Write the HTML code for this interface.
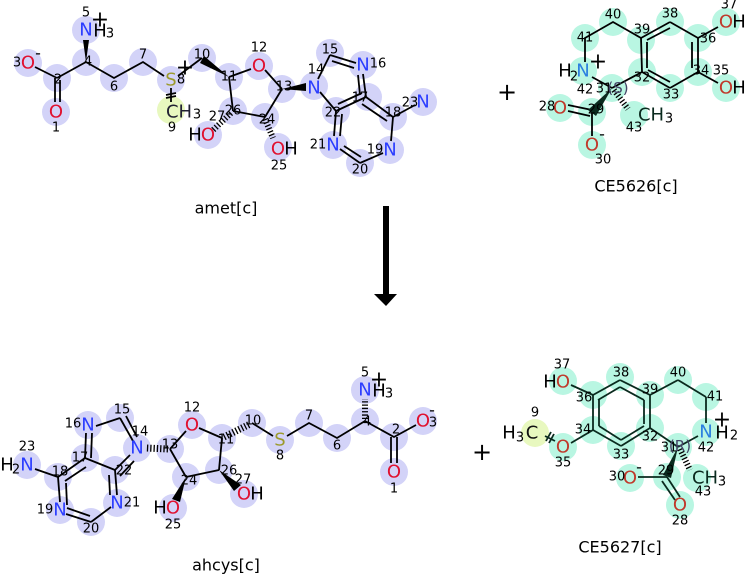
<!DOCTYPE html>
<html><head><meta charset="utf-8"><style>
html,body{margin:0;padding:0;background:#fff;}
svg{display:block;font-family:"DejaVu Sans","Liberation Sans",sans-serif;}
.l circle{fill:#d3d3f8;r:14px}
.m circle{fill:#b9f6e2;r:14px}
.y{fill:#e8f8bf}
.b line,.b polyline{stroke:#000;stroke-width:1.8;fill:none}
.g line{stroke:#0a2a1e;stroke-width:1.8}
.e{font-size:18px;text-anchor:middle;dominant-baseline:central}
.n{font-size:13px;text-anchor:middle;dominant-baseline:central;fill:#000}
.nb{fill:#2b3dff}.or{fill:#e0102f}.os{fill:#c0392b}.sy{fill:#9c9a2c}.nc{fill:#2a7fe0}
</style></head><body>
<svg width="745" height="575" viewBox="0 0 745 575" xmlns="http://www.w3.org/2000/svg">
<!-- amet highlights -->
<g class="l">
<circle cx="28" cy="63" r="14"/><circle cx="57" cy="78" r="14"/><circle cx="56" cy="112" r="14"/>
<circle cx="86" cy="62" r="14"/><circle cx="86" cy="30" r="14"/><circle cx="114" cy="78" r="14"/>
<circle cx="143" cy="62" r="14"/><circle cx="171" cy="80" r="14"/><circle cx="202" cy="58" r="14"/>
<circle cx="229" cy="77" r="14"/><circle cx="259" cy="66" r="14"/><circle cx="282" cy="89" r="14"/>
<circle cx="233" cy="111" r="14"/><circle cx="265" cy="117" r="14"/><circle cx="208" cy="135" r="14"/>
<circle cx="278" cy="147" r="14"/><circle cx="314" cy="86" r="14"/><circle cx="330" cy="53" r="14"/>
<circle cx="363" cy="65" r="14"/><circle cx="368" cy="97" r="14"/><circle cx="336" cy="111" r="14"/>
<circle cx="393" cy="117" r="14"/><circle cx="423" cy="102" r="14"/><circle cx="390" cy="150" r="14"/>
<circle cx="360" cy="163" r="14"/><circle cx="333" cy="145" r="14"/>
</g>
<circle class="y" cx="171" cy="110" r="14"/>
<g class="b">
<line x1="35" y1="67" x2="57" y2="78"/><line x1="55" y1="78" x2="55" y2="102"/><line x1="60" y1="80" x2="60" y2="102"/>
<polyline points="57,78 86,62 114,78 143,62 164,76"/>
<line x1="171" y1="88" x2="171" y2="102"/>
<line x1="166" y1="95" x2="176" y2="93"/><line x1="166" y1="98" x2="176" y2="96"/>
<line x1="178" y1="76" x2="202" y2="58"/>
<line x1="229" y1="77" x2="251" y2="69"/><line x1="265" y1="70" x2="282" y2="89"/>
<line x1="229" y1="77" x2="233" y2="111"/><line x1="233" y1="111" x2="265" y2="117"/><line x1="265" y1="117" x2="282" y2="89"/>
<line x1="318" y1="79" x2="330" y2="55"/><line x1="330" y1="55" x2="356" y2="63"/><line x1="332" y1="61" x2="354" y2="68"/>
<line x1="363" y1="74" x2="366" y2="97"/><line x1="358" y1="75" x2="360" y2="95"/>
<line x1="320" y1="92" x2="336" y2="111"/><line x1="366" y1="97" x2="336" y2="111"/><line x1="362" y1="93" x2="338" y2="104"/>
<line x1="366" y1="97" x2="393" y2="117"/><line x1="362" y1="104" x2="387" y2="121"/>
<line x1="393" y1="117" x2="415" y2="105"/><line x1="393" y1="117" x2="391" y2="141"/>
<line x1="383" y1="153" x2="360" y2="163"/><line x1="360" y1="163" x2="340" y2="149"/><line x1="361" y1="157" x2="344" y2="146"/>
<line x1="336" y1="111" x2="334" y2="136"/><line x1="342" y1="114" x2="340" y2="136"/>
</g>
<polygon points="86,62 83,40 89,40" fill="#000"/>
<polygon points="229,77 200,63 204,56" fill="#000"/>
<polygon points="282,89 306,83 306,91" fill="#000"/>
<line x1="231" y1="113" x2="212" y2="131" stroke="#000" stroke-width="6" stroke-dasharray="1.3,2"/>
<line x1="265" y1="119" x2="273" y2="138" stroke="#000" stroke-width="6" stroke-dasharray="1.3,2"/>
<g>
<text class="e or" x="28" y="63">O</text><text class="n" x="17" y="63">3</text><text class="n" x="38" y="53" style="font-size:16px">-</text>
<text class="n" x="58" y="80">2</text>
<text class="e or" x="56" y="112">O</text><text class="n" x="56" y="128">1</text>
<text class="n" x="88" y="62">4</text>
<text class="e nb" x="86" y="30">N</text><text class="e" x="100" y="31">H</text><text class="n" x="110" y="34" style="font-size:13px">3</text>
<text class="n" x="86" y="13">5</text><text class="e" x="100" y="20" style="font-size:22px">+</text>
<text class="n" x="114" y="87">6</text><text class="n" x="143" y="55">7</text>
<text class="e sy" x="171" y="80">S</text><text class="n" x="181" y="80">8</text><text class="e" x="185" y="68" style="font-size:22px">+</text>
<text class="e" x="179" y="112" fill="#223">CH</text><text class="n" x="197" y="115" style="font-size:13px">3</text><text class="n" x="172" y="128">9</text>
<text class="n" x="202" y="55">10</text><text class="n" x="229" y="77">11</text>
<text class="e or" x="259" y="66">O</text><text class="n" x="259" y="48">12</text>
<text class="n" x="284" y="87">13</text>
<text class="n" x="233" y="111">26</text><text class="n" x="217" y="117">27</text>
<text class="e or" x="208" y="135">O</text><text class="e" x="195" y="135">H</text>
<text class="n" x="267" y="120">24</text>
<text class="e or" x="278" y="149">O</text><text class="e" x="291" y="149">H</text><text class="n" x="279" y="166">25</text>
<text class="e nb" x="314" y="88">N</text><text class="n" x="316" y="70">14</text>
<text class="n" x="330" y="50">15</text>
<text class="e nb" x="363" y="65">N</text><text class="n" x="378" y="64">16</text>
<text class="n" x="360" y="98">17</text><text class="n" x="333" y="113">22</text>
<text class="n" x="393" y="113">18</text><text class="n" x="410" y="103">23</text>
<text class="e nb" x="423" y="102">N</text>
<text class="e nb" x="390" y="150">N</text><text class="n" x="375" y="150">19</text>
<text class="n" x="360" y="170">20</text>
<text class="e nb" x="333" y="145">N</text><text class="n" x="318" y="145">21</text>
</g>
<text x="226" y="208" font-size="16" text-anchor="middle" dominant-baseline="central">amet[c]</text>
<text x="507" y="92" font-size="24" text-anchor="middle" dominant-baseline="central">+</text>

<!-- CE5626 -->
<g class="m">
<circle cx="613" cy="22" r="14"/><circle cx="585" cy="38" r="14"/><circle cx="583" cy="71" r="14"/>
<circle cx="612" cy="88" r="14"/><circle cx="641" cy="40" r="14"/><circle cx="670" cy="22" r="14"/>
<circle cx="698" cy="38" r="14"/><circle cx="698" cy="72" r="14"/><circle cx="670" cy="88" r="14"/>
<circle cx="642" cy="72" r="14"/><circle cx="726" cy="22" r="14"/><circle cx="726" cy="88" r="14"/>
<circle cx="592" cy="112" r="14"/><circle cx="560" cy="108" r="14"/><circle cx="592" cy="145" r="14"/>
<circle cx="634" cy="115" r="14"/>
</g>
<g class="b">
<polyline points="585,62 585,38 613,22 641,38"/>
<line x1="592" y1="77" x2="612" y2="88"/><line x1="612" y1="88" x2="642" y2="72"/>
<line x1="641" y1="38" x2="642" y2="72"/><line x1="647" y1="42" x2="647" y2="68"/>
<line x1="641" y1="38" x2="670" y2="22"/><line x1="670" y1="22" x2="698" y2="38"/><line x1="647" y1="40" x2="670" y2="28"/>
<line x1="698" y1="38" x2="698" y2="72"/><line x1="692" y1="42" x2="692" y2="68"/>
<line x1="698" y1="72" x2="670" y2="88"/><line x1="670" y1="88" x2="642" y2="72"/><line x1="670" y1="82" x2="648" y2="70"/>
<line x1="698" y1="38" x2="718" y2="27"/><line x1="698" y1="72" x2="718" y2="83"/>
<line x1="568" y1="105" x2="592" y2="110"/><line x1="568" y1="111" x2="590" y2="116"/>
<line x1="592" y1="112" x2="592" y2="136"/>
</g>
<polygon points="612,88 588,110 596,116" fill="#0a2a1e"/>
<line x1="614" y1="90" x2="628" y2="109" stroke="#000" stroke-width="6" stroke-dasharray="1.3,2"/>
<g>
<text class="n" x="613" y="15">40</text><text class="n" x="585" y="38">41</text>
<text class="e nc" x="583" y="71">N</text><text class="e" x="565" y="71">H</text><text class="n" x="574" y="77" style="font-size:13px">2</text>
<text class="e" x="598" y="62" style="font-size:22px">+</text><text class="n" x="585" y="90">42</text>
<text class="n" x="604" y="89">31</text><text class="e" x="618" y="88" fill="#446" style="font-size:15px">(S)</text>
<text class="n" x="642" y="30">39</text><text class="n" x="670" y="14">38</text><text class="n" x="708" y="39">36</text>
<text class="n" x="701" y="71">34</text><text class="n" x="671" y="95">33</text><text class="n" x="642" y="78">32</text>
<text class="e os" x="726" y="22">O</text><text class="e" x="739" y="22">H</text><text class="n" x="729" y="5">37</text>
<text class="e os" x="726" y="88">O</text><text class="e" x="739" y="88">H</text><text class="n" x="721" y="71">35</text>
<text class="e os" x="560" y="108">O</text><text class="n" x="547" y="107">28</text>
<text class="n" x="596" y="110">29</text>
<text class="e os" x="592" y="145">O</text><text class="n" x="602" y="134" style="font-size:16px">-</text><text class="n" x="603" y="160">30</text>
<text class="e" x="651" y="115" fill="#0a2a1e">CH</text><text class="n" x="669" y="119" style="font-size:13px">3</text><text class="n" x="634" y="128">43</text>
</g>
<text x="636" y="186" font-size="16" text-anchor="middle" dominant-baseline="central">CE5626[c]</text>

<!-- arrow -->
<rect x="383" y="206" width="6" height="90" fill="#000"/>
<polygon points="374,294 397,294 386,306" fill="#000"/>

<!-- ahcys -->
<g class="l">
<circle cx="27" cy="465" r="14"/><circle cx="58" cy="477" r="14"/><circle cx="85" cy="458" r="14"/>
<circle cx="88" cy="425" r="14"/><circle cx="120" cy="418" r="14"/><circle cx="137" cy="448" r="14"/>
<circle cx="115" cy="470" r="14"/><circle cx="60" cy="510" r="14"/><circle cx="91" cy="522" r="14"/>
<circle cx="117" cy="503" r="14"/><circle cx="170" cy="449" r="14"/><circle cx="192" cy="425" r="14"/>
<circle cx="222" cy="438" r="14"/><circle cx="252" cy="423" r="14"/><circle cx="280" cy="440" r="14"/>
<circle cx="309" cy="423" r="14"/><circle cx="337" cy="438" r="14"/><circle cx="365" cy="421" r="14"/>
<circle cx="365" cy="390" r="14"/><circle cx="394" cy="437" r="14"/><circle cx="423" cy="421" r="14"/>
<circle cx="394" cy="472" r="14"/><circle cx="186" cy="477" r="14"/><circle cx="219" cy="470" r="14"/>
<circle cx="244" cy="494" r="14"/><circle cx="173" cy="508" r="14"/>
</g>
<g class="b">
<line x1="35" y1="469" x2="58" y2="477"/><line x1="58" y1="477" x2="85" y2="458"/><line x1="65" y1="481" x2="86" y2="467"/>
<line x1="85" y1="458" x2="86" y2="433"/><line x1="91" y1="458" x2="92" y2="433"/>
<line x1="96" y1="426" x2="120" y2="418"/><line x1="120" y1="418" x2="133" y2="441"/><line x1="126" y1="416" x2="137" y2="437"/>
<line x1="85" y1="458" x2="115" y2="470"/><line x1="130" y1="455" x2="115" y2="470"/><line x1="134" y1="461" x2="120" y2="476"/>
<line x1="58" y1="477" x2="60" y2="502"/><line x1="66" y1="514" x2="91" y2="522"/><line x1="67" y1="508" x2="90" y2="516"/>
<line x1="91" y1="522" x2="111" y2="507"/><line x1="115" y1="470" x2="117" y2="495"/><line x1="109" y1="475" x2="110" y2="495"/>
<line x1="66" y1="483" x2="67" y2="505"/>
<line x1="170" y1="449" x2="186" y2="431"/><line x1="199" y1="428" x2="222" y2="438"/>
<line x1="170" y1="449" x2="186" y2="477"/><line x1="186" y1="477" x2="219" y2="470"/><line x1="219" y1="470" x2="222" y2="438"/>
<polyline points="252,423 273,436"/><polyline points="287,436 309,423 337,438 365,421 394,437 416,425"/>
<line x1="391" y1="437" x2="391" y2="463"/><line x1="397" y1="437" x2="397" y2="463"/>
</g>
<line x1="224" y1="437" x2="250" y2="424" stroke="#000" stroke-width="7" stroke-dasharray="1.3,2"/>
<line x1="168" y1="449" x2="146" y2="448" stroke="#000" stroke-width="7" stroke-dasharray="1.3,2"/>
<line x1="365" y1="419" x2="365" y2="399" stroke="#000" stroke-width="6" stroke-dasharray="1.3,2"/>
<polygon points="186,477 172,499 180,502" fill="#000"/>
<polygon points="219,470 234,491 241,485" fill="#000"/>
<g>
<text class="e nb" x="27" y="465">N</text><text class="e" x="7" y="465">H</text><text class="n" x="16" y="470" style="font-size:13px">2</text><text class="n" x="27" y="447">23</text>
<text class="n" x="60" y="472">18</text><text class="n" x="80" y="458">17</text>
<text class="e nb" x="88" y="425">N</text><text class="n" x="73" y="424">16</text>
<text class="n" x="122" y="410">15</text>
<text class="e nb" x="137" y="448">N</text><text class="n" x="140" y="432">14</text>
<text class="n" x="124" y="471">22</text>
<text class="e nb" x="60" y="510">N</text><text class="n" x="45" y="510">19</text>
<text class="n" x="91" y="529">20</text>
<text class="e nb" x="117" y="503">N</text><text class="n" x="132" y="503">21</text>
<text class="n" x="170" y="445">13</text>
<text class="e or" x="192" y="425">O</text><text class="n" x="192" y="408">12</text>
<text class="n" x="226" y="440">11</text><text class="n" x="253" y="421">10</text>
<text class="e sy" x="280" y="440">S</text><text class="n" x="280" y="456">8</text>
<text class="n" x="309" y="416">7</text><text class="n" x="337" y="446">6</text>
<text class="n" x="367" y="422">4</text>
<text class="e nb" x="365" y="390">N</text><text class="e" x="379" y="391">H</text><text class="n" x="389" y="394" style="font-size:13px">3</text>
<text class="n" x="365" y="373">5</text><text class="e" x="379" y="380" style="font-size:22px">+</text>
<text class="n" x="396" y="430">2</text>
<text class="e or" x="423" y="421">O</text><text class="n" x="433" y="423">3</text><text class="n" x="432" y="410" style="font-size:16px">-</text>
<text class="e or" x="394" y="472">O</text><text class="n" x="394" y="489">1</text>
<text class="n" x="189" y="481">24</text><text class="n" x="229" y="471">26</text><text class="n" x="243" y="480">27</text>
<text class="e or" x="244" y="494">O</text><text class="e" x="257" y="494">H</text>
<text class="e or" x="173" y="508">O</text><text class="e" x="160" y="508">H</text><text class="n" x="173" y="525">25</text>
</g>
<text x="226" y="565" font-size="16" text-anchor="middle" dominant-baseline="central">ahcys[c]</text>
<text x="482" y="452" font-size="24" text-anchor="middle" dominant-baseline="central">+</text>

<!-- CE5627 -->
<g class="m">
<circle cx="563" cy="381" r="14"/><circle cx="593" cy="395" r="14"/><circle cx="620" cy="377" r="14"/>
<circle cx="650" cy="395" r="14"/><circle cx="678" cy="380" r="14"/><circle cx="706" cy="397" r="14"/>
<circle cx="706" cy="432" r="14"/><circle cx="678" cy="447" r="14"/><circle cx="650" cy="428" r="14"/>
<circle cx="621" cy="446" r="14"/><circle cx="593" cy="430" r="14"/><circle cx="563" cy="447" r="14"/>
<circle cx="667" cy="477" r="14"/><circle cx="630" cy="478" r="14"/><circle cx="680" cy="505" r="14"/>
<circle cx="697" cy="478" r="14"/>
</g>
<circle class="y" cx="535" cy="433" r="14"/>
<g class="g">
<line x1="571" y1="385" x2="593" y2="395"/>
<line x1="593" y1="395" x2="620" y2="380"/><line x1="620" y1="380" x2="650" y2="395"/><line x1="598" y1="400" x2="620" y2="387"/>
<line x1="620" y1="387" x2="644" y2="400"/>
<line x1="650" y1="395" x2="650" y2="428"/><line x1="644" y1="400" x2="644" y2="424"/>
<line x1="593" y1="395" x2="593" y2="430"/><line x1="599" y1="399" x2="599" y2="426"/>
<line x1="593" y1="430" x2="621" y2="446"/><line x1="621" y1="446" x2="650" y2="428"/><line x1="621" y1="440" x2="644" y2="426"/>
<line x1="599" y1="426" x2="621" y2="440"/>
<line x1="650" y1="395" x2="678" y2="380"/><line x1="678" y1="380" x2="706" y2="397"/><line x1="706" y1="397" x2="706" y2="423"/>
<line x1="698" y1="436" x2="678" y2="447"/><line x1="650" y1="428" x2="678" y2="447"/>
<line x1="593" y1="430" x2="571" y2="443"/><line x1="555" y1="441" x2="545" y2="436"/>
<line x1="546" y1="441" x2="551" y2="432"/><line x1="549" y1="443" x2="554" y2="434"/>
<line x1="638" y1="477" x2="667" y2="477"/>
<line x1="667" y1="477" x2="680" y2="497"/><line x1="662" y1="481" x2="675" y2="500"/>
</g>
<polygon points="678,447 663,475 671,478" fill="#0a2a1e"/>
<line x1="680" y1="449" x2="690" y2="470" stroke="#000" stroke-width="6" stroke-dasharray="1.3,2"/>
<g>
<text class="e os" x="563" y="382">O</text><text class="e" x="550" y="382">H</text><text class="n" x="562" y="365">37</text>
<text class="n" x="584" y="398">36</text><text class="n" x="621" y="373">38</text><text class="n" x="650" y="390">39</text>
<text class="n" x="678" y="373">40</text><text class="n" x="715" y="397">41</text>
<text class="e nc" x="706" y="432">N</text><text class="e" x="722" y="433">H</text><text class="n" x="734" y="436" style="font-size:13px">2</text>
<text class="e" x="722" y="420" style="font-size:22px">+</text><text class="n" x="706" y="448">42</text>
<text class="n" x="669" y="448">31</text><text class="e" x="680" y="446" fill="#446" style="font-size:15px">(R)</text>
<text class="n" x="650" y="437">32</text><text class="n" x="621" y="455">33</text><text class="n" x="583" y="430">34</text>
<text class="e os" x="563" y="447">O</text><text class="n" x="563" y="463">35</text>
<text class="e" x="532" y="433" fill="#111">C</text><text class="e" x="509" y="433">H</text><text class="n" x="520" y="438" style="font-size:13px">3</text><text class="n" x="535" y="413">9</text>
<text class="e os" x="630" y="478">O</text><text class="n" x="617" y="477">30</text><text class="n" x="639" y="467" style="font-size:16px">-</text>
<text class="n" x="666" y="471">29</text>
<text class="e" x="705" y="478" fill="#0a2a1e">CH</text><text class="n" x="722" y="482" style="font-size:13px">3</text><text class="n" x="703" y="492">43</text>
<text class="e os" x="680" y="505">O</text><text class="n" x="680" y="521">28</text>
</g>
<text x="620" y="547" font-size="16" text-anchor="middle" dominant-baseline="central">CE5627[c]</text>
</svg>
</body></html>
